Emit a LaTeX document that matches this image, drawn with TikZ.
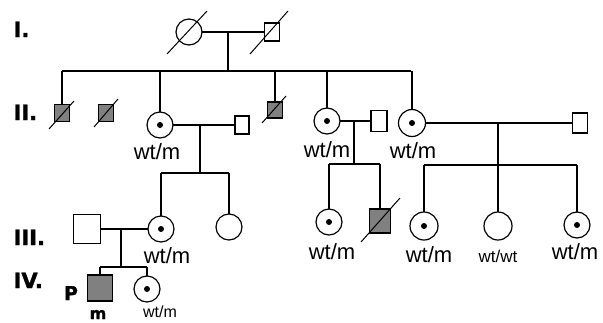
\documentclass[tikz,border=0pt]{standalone}
\usepackage{fontspec}
\setmainfont{Liberation Sans}
\newfontfamily\heavy{DejaVu Sans}[BoldFeatures={FakeBold=1.5}]
\begin{document}
\begin{tikzpicture}[x=1pt,y=-1pt,line width=1.2pt,
  person/.style={draw,inner sep=0pt,outer sep=0pt},
  male/.style={person,rectangle,minimum width=15pt,minimum height=17pt},
  female/.style={person,circle,minimum size=26pt},
  affected/.style={fill=black!50},
  carrier/.style={path picture={\fill (path picture bounding box.center) circle (3pt);}},
  gen/.style={anchor=base west,inner sep=0pt,font=\heavy\bfseries\fontsize{21}{24}\selectfont},
  geno/.style={anchor=base,inner sep=0pt,font=\fontsize{22}{24}\selectfont},
  genosmall/.style={anchor=base,inner sep=0pt,font=\fontsize{16}{18}\selectfont},
  boldlabel/.style={anchor=base,inner sep=0pt,font=\heavy\bfseries\fontsize{19}{22}\selectfont},
  deadline/.style={line width=1pt}]
\useasboundingbox (0,0) rectangle (603,322);

% generation labels
\node[gen] (gI)   at (13,37)  {I.};
\node[gen] (gII)  at (13,120) {II.};
\node[gen] (gIII) at (13,245) {III.};
\node[gen] (gIV)  at (13,288) {IV.};

% generation I
\node[female] (i1) at (189,32) {};
\node[male,minimum height=18pt] (i2) at (272,32) {};
\draw[deadline] ([shift={(-22,22)}]i1.center) -- ([shift={(18,-21)}]i1.center);
\draw[deadline] ([shift={(-22,22)}]i2.center) -- ([shift={(16,-21)}]i2.center);
\coordinate (m1) at (228,32);
\draw (i1) -- (i2);

% sibship of generation II
\coordinate (s1L) at (62,71);
\coordinate (s1R) at (411,71);
\draw (m1) -- (m1 |- s1L);
\draw (s1L) -- (s1R);

% generation II
\node[male,affected] (ii1) at (62,113) {};
\node[male,affected] (ii2) at (106,113) {};
\node[female,carrier] (ii3) at (160,125) {};
\node[male,minimum width=14pt,minimum height=18pt] (ii3s) at (242,125) {};
\node[male,affected,minimum height=16pt] (ii4) at (275,110) {};
\node[female,carrier] (ii5) at (327,121) {};
\node[male,minimum width=16pt,minimum height=21pt] (ii5s) at (379,121) {};
\node[female,carrier,minimum size=27pt] (ii6) at (412,123) {};
\node[male,minimum height=20pt] (ii6s) at (580,123) {};

\draw[deadline] ([shift={(-13,16)}]ii1.center) -- ([shift={(12,-12)}]ii1.center);
\draw[deadline] ([shift={(-12,14)}]ii2.center) -- ([shift={(12,-14)}]ii2.center);
\draw[deadline] ([shift={(-13,13)}]ii4.center) -- ([shift={(11,-14)}]ii4.center);

\draw (ii1.north |- s1L) -- (ii1.north);
\draw (ii3.north |- s1L) -- (ii3.north);
\draw (ii4.north |- s1L) -- (ii4.north);
\draw (ii5.north |- s1L) -- (ii5.north);
\draw (ii6.north |- s1L) -- (ii6.north);

\node[geno] (l3) at (157,159) {wt/m};
\node[geno] (l5) at (327,157) {wt/m};
\node[geno] (l6) at (413,158) {wt/m};

% couples of generation II
\draw (ii3) -- (ii3s);
\draw (ii5) -- (ii5s);
\draw (ii6) -- (ii6s);
\coordinate (m3) at (200,125);
\coordinate (m5) at (354,121);
\coordinate (m6) at (498,123);

% generation III
\node[male,minimum width=27pt,minimum height=29pt] (iiis) at (87,229) {};
\node[female,carrier] (iii1) at (161,229) {};
\node[female] (iii2) at (229,227) {};
\node[female,carrier] (iii3) at (329,222) {};
\node[male,affected,minimum width=21pt,minimum height=24pt] (iii4) at (380,221) {};
\node[female,carrier,minimum size=28pt] (iii5) at (424,226) {};
\node[female,minimum size=28pt] (iii6) at (498,226) {};
\node[female,carrier] (iii7) at (577,225) {};
\draw[deadline] ([shift={(-19,21)}]iii4.center) -- ([shift={(20,-23)}]iii4.center);

% sibships of generation III
\coordinate (s3L) at (161,173);
\coordinate (s3R) at (229,173);
\draw (m3) -- (m3 |- s3L);
\draw (s3L) -- (s3R);
\draw (s3L) -- (iii1.north);
\draw (s3R) -- (iii2.north);

\coordinate (s5L) at (329,164);
\coordinate (s5R) at (380,164);
\draw (m5) -- (m5 |- s5L);
\draw (s5L) -- (s5R);
\draw (s5L) -- (iii3.north);
\draw (s5R) -- (iii4.north);

\coordinate (s6L) at (424,165);
\coordinate (s6R) at (577,165);
\draw (s6L) -- (s6R);
\draw (m6) -- (iii6.north);
\draw (s6L) -- (iii5.north);
\draw (s6R) -- (iii7.north);

\node[geno] (l31) at (167,263) {wt/m};
\node[geno] (l33) at (332,259) {wt/m};
\node[geno] (l35) at (429,262) {wt/m};
\node[genosmall,font=\fontsize{17}{19}\selectfont] (l36) at (498,262) {wt/wt};
\node[geno] (l37) at (575,259) {wt/m};

% couple of generation III and generation IV
\draw (iiis) -- (iii1);
\coordinate (m7) at (121,229);
\coordinate (s7L) at (100,267);
\coordinate (s7R) at (147,267);
\draw (m7) -- (m7 |- s7L);
\draw (s7L) -- (s7R);

\node[male,affected,minimum width=25pt,minimum height=26pt] (iv1) at (100,288) {};
\node[female,carrier] (iv2) at (147,289) {};
\draw (s7L) -- (iv1.north);
\draw (s7R) -- (iv2.north);

\node[boldlabel] (p) at (71,300) {P};
\node[boldlabel,font=\heavy\bfseries\fontsize{16}{18}\selectfont] (mm) at (98,319) {m};
\node[genosmall] (l42) at (160,317) {wt/m};
\end{tikzpicture}
\end{document}
